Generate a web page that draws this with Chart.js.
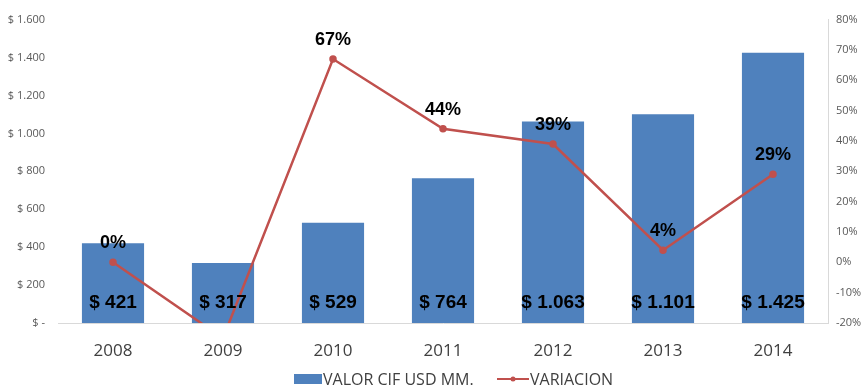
<!DOCTYPE html>
<html>
<head>
<meta charset="utf-8">
<script src="https://cdn.jsdelivr.net/npm/chart.js@4.4.1/dist/chart.umd.min.js"></script>
<style>
  html, body { margin: 0; padding: 0; background: #fff; }
  #wrap { width: 865px; height: 390px; }
</style>
</head>
<body>
<div id="wrap"><canvas id="chart" width="865" height="390"></canvas></div>
<script>
let years = ['2008', '2009', '2010', '2011', '2012', '2013', '2014']
let valor_cif = [421, 317, 529, 764, 1063, 1101, 1425]
let variacion = [0, -25, 67, 44, 39, 4, 29]
let valor_labels = ['$ 421', '$ 317', '$ 529', '$ 764', '$ 1.063', '$ 1.101', '$ 1.425']
let variacion_labels = ['0%', '-25%', '67%', '44%', '39%', '4%', '29%']

const BLUE = '#4F81BD'
const RED = '#C0504D'
const tickFont = { family: '"Open Sans", "Noto Sans", sans-serif', size: 11 }

function moneyTick(v) {
    if (v === 0) return '$ -';
    return '$ ' + v.toLocaleString('de-DE');
}

// value labels for bars and the percentage line
const valueLabels = {
    id: 'valueLabels',
    afterDatasetsDraw(chart) {
        const ctx = chart.ctx
        const area = chart.chartArea
        ctx.save()
        ctx.fillStyle = '#000'
        ctx.textAlign = 'center'
        ctx.textBaseline = 'middle'
        ctx.font = 'bold 19px "Liberation Sans", Arial, sans-serif'
        chart.getDatasetMeta(0).data.forEach((bar, i) => {
            ctx.fillText(valor_labels[i], bar.x, bar.base - 20)
        })
        ctx.font = 'bold 18px "Liberation Sans", Arial, sans-serif'
        chart.getDatasetMeta(1).data.forEach((pt, i) => {
            if (pt.y > area.bottom || pt.y < area.top) return;
            ctx.fillText(variacion_labels[i], pt.x, pt.y - 19)
        })
        ctx.restore()
    }
}

// legend under the year labels
const bottomLegend = {
    id: 'bottomLegend',
    afterDraw(chart) {
        const ctx = chart.ctx
        const y = 379
        ctx.save()
        ctx.font = '16px "Open Sans", "Noto Sans", sans-serif'
        ctx.textBaseline = 'middle'
        ctx.textAlign = 'left'
        ctx.fillStyle = BLUE
        ctx.fillRect(294, y - 5, 28, 10)
        ctx.fillStyle = '#404040'
        ctx.fillText(chart.data.datasets[0].label, 323, y + 1)
        ctx.strokeStyle = RED
        ctx.lineWidth = 2
        ctx.beginPath()
        ctx.moveTo(497, y)
        ctx.lineTo(529, y)
        ctx.stroke()
        ctx.fillStyle = RED
        ctx.beginPath()
        ctx.arc(513, y, 2.5, 0, Math.PI * 2)
        ctx.fill()
        ctx.fillStyle = '#404040'
        ctx.fillText(chart.data.datasets[1].label, 530, y + 1)
        ctx.restore()
    }
}

const data = {
    labels: years,
    datasets: [
        {
            type: 'bar',
            label: 'VALOR CIF USD MM.',
            data: valor_cif,
            backgroundColor: BLUE,
            categoryPercentage: 1,
            barPercentage: 0.565,
            yAxisID: 'y',
            order: 1,
        },
        {
            type: 'line',
            label: 'VARIACION',
            data: variacion,
            borderColor: RED,
            backgroundColor: RED,
            borderWidth: 2.5,
            pointRadius: 2.5,
            pointHoverRadius: 2.5,
            tension: 0,
            yAxisID: 'y1',
            order: 0,
        }
    ]
}

const config = {
    data: data,
    options: {
        responsive: false,
        animation: false,
        layout: { padding: { top: 12, left: 0, right: 0, bottom: 0 } },
        plugins: {
            legend: { display: false },
            tooltip: { enabled: false },
        },
        scales: {
            x: {
                grid: { display: false, drawTicks: false },
                border: { display: true, color: '#D9D9D9', width: 1 },
                ticks: { color: '#404040', font: { family: '"Open Sans", "Noto Sans", sans-serif', size: 17 }, padding: 18 },
                afterFit(scale) { scale.height = 67 },
            },
            y: {
                type: 'linear',
                position: 'left',
                min: 0,
                max: 1600,
                grid: { display: false, drawTicks: false },
                border: { display: false },
                ticks: { stepSize: 200, color: '#595959', font: tickFont, padding: 13, callback: moneyTick },
                afterFit(scale) { scale.width = 58 },
            },
            y1: {
                type: 'linear',
                position: 'right',
                min: -20,
                max: 80,
                grid: { display: false, drawOnChartArea: false, drawTicks: true, tickLength: 5, color: '#D9D9D9' },
                border: { display: true, color: '#D9D9D9', width: 1 },
                ticks: { stepSize: 10, color: '#595959', font: tickFont, padding: 3, callback: v => v + '%' },
                afterFit(scale) { scale.width = 37 },
            },
        },
    },
    plugins: [valueLabels, bottomLegend],
}

let myChart = new Chart(document.getElementById('chart'), config)
</script>
</body>
</html>
